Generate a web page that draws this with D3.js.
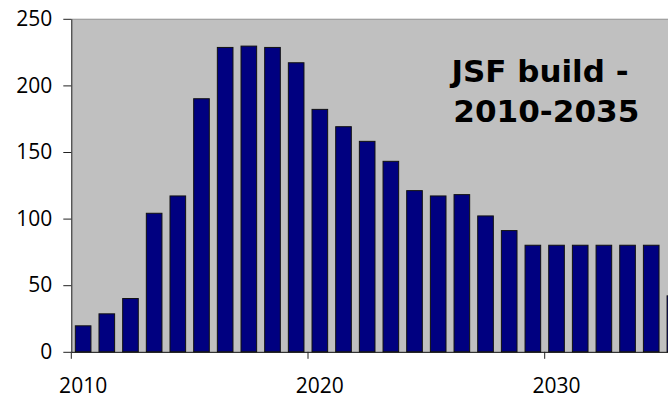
<!DOCTYPE html>
<html>
<head>
<meta charset="utf-8">
<script src="https://cdn.jsdelivr.net/npm/d3@7"></script>
<style>
  html, body { margin: 0; padding: 0; background: #ffffff; overflow: hidden; }
  svg { display: block; }
</style>
</head>
<body>
<svg id="chart" width="668" height="396"></svg>
<script>
// ---- data ----
const years = [2010, 2011, 2012, 2013, 2014, 2015, 2016, 2017, 2018, 2019, 2020, 2021, 2022,
               2023, 2024, 2025, 2026, 2027, 2028, 2029, 2030, 2031, 2032, 2033, 2034, 2035];
const builds = [19.5, 28.5, 40, 104, 117, 190, 228.5, 229.5, 228.5, 217, 182, 169, 158,
                143, 121, 117, 118, 102, 91, 80, 80, 80, 80, 80, 80, 42];
const yTicks = [0, 50, 100, 150, 200, 250];
const xTickYears = [2010, 2020, 2030];
const titleLines = ["JSF build -", "2010-2035"];

// ---- layout ----
const svg = d3.select("#chart");
const plotLeft = 71.3, plotTop = 18.8, plotBottom = 351.8;
const step = 23.67;
const plotRight = plotLeft + years.length * step;   // extends past the window, like the reference
const pad = 0.34;

const x = d3.scaleBand()
  .domain(years)
  .range([plotLeft, plotRight])
  .paddingInner(pad)
  .paddingOuter(pad / 2);

const y = d3.scaleLinear().domain([0, 250]).range([plotBottom, plotTop]);

// plot background
svg.append("rect")
  .attr("x", plotLeft).attr("y", plotTop)
  .attr("width", plotRight - plotLeft).attr("height", plotBottom - plotTop)
  .attr("fill", "#c0c0c0");
svg.append("line")
  .attr("x1", plotLeft).attr("x2", plotRight)
  .attr("y1", plotTop + 0.5).attr("y2", plotTop + 0.5)
  .attr("stroke", "#9a9a9a").attr("stroke-width", 1);

// bars
svg.append("g").selectAll("rect")
  .data(years.map((yr, i) => ({ yr, v: builds[i] })))
  .join("rect")
  .attr("x", d => x(d.yr))
  .attr("y", d => y(d.v))
  .attr("width", x.bandwidth())
  .attr("height", d => plotBottom - y(d.v))
  .attr("fill", "#000080")
  .attr("stroke", "#111")
  .attr("stroke-width", 1);

// y axis
const yAxis = svg.append("g")
  .attr("transform", `translate(${plotLeft},0)`)
  .call(d3.axisLeft(y).tickValues(yTicks).tickSize(8).tickPadding(11).tickSizeOuter(0));
yAxis.select(".domain").attr("stroke", "#222");
yAxis.selectAll(".tick line").attr("stroke", "#222");
yAxis.selectAll("text")
  .attr("font-family", "'Open Sans', 'Noto Sans', sans-serif")
  .attr("font-size", 21)
  .attr("fill", "#000");

// x axis: labels centred on bars
const xAxis = svg.append("g")
  .attr("transform", `translate(0,${plotBottom})`)
  .call(d3.axisBottom(x).tickValues(xTickYears).tickSize(0).tickPadding(26).tickSizeOuter(0));
xAxis.select(".domain").attr("stroke", "#000");
xAxis.selectAll("text")
  .attr("font-family", "'Open Sans', 'Noto Sans', sans-serif")
  .attr("font-size", 21)
  .attr("fill", "#000");

// x tick marks on category boundaries
svg.append("g").selectAll("line")
  .data(xTickYears)
  .join("line")
  .attr("x1", d => x(d) - x.step() * x.paddingOuter())
  .attr("x2", d => x(d) - x.step() * x.paddingOuter())
  .attr("y1", plotBottom)
  .attr("y2", plotBottom + 7)
  .attr("stroke", "#222")
  .attr("stroke-width", 1);

// annotation
const lineBaselines = [81.5, 121.7];
const lineLefts = [451.5, 453.3];
const lineLengths = [177, 186];
svg.append("g").selectAll("text")
  .data(titleLines)
  .join("text")
  .attr("x", (d, i) => lineLefts[i])
  .attr("y", (d, i) => lineBaselines[i])
  .attr("font-family", "'DejaVu Sans', Verdana, sans-serif")
  .attr("font-weight", "bold")
  .attr("font-size", 30)
  .attr("textLength", (d, i) => lineLengths[i])
  .attr("lengthAdjust", "spacingAndGlyphs")
  .attr("fill", "#000")
  .text(d => d);
</script>
</body>
</html>
